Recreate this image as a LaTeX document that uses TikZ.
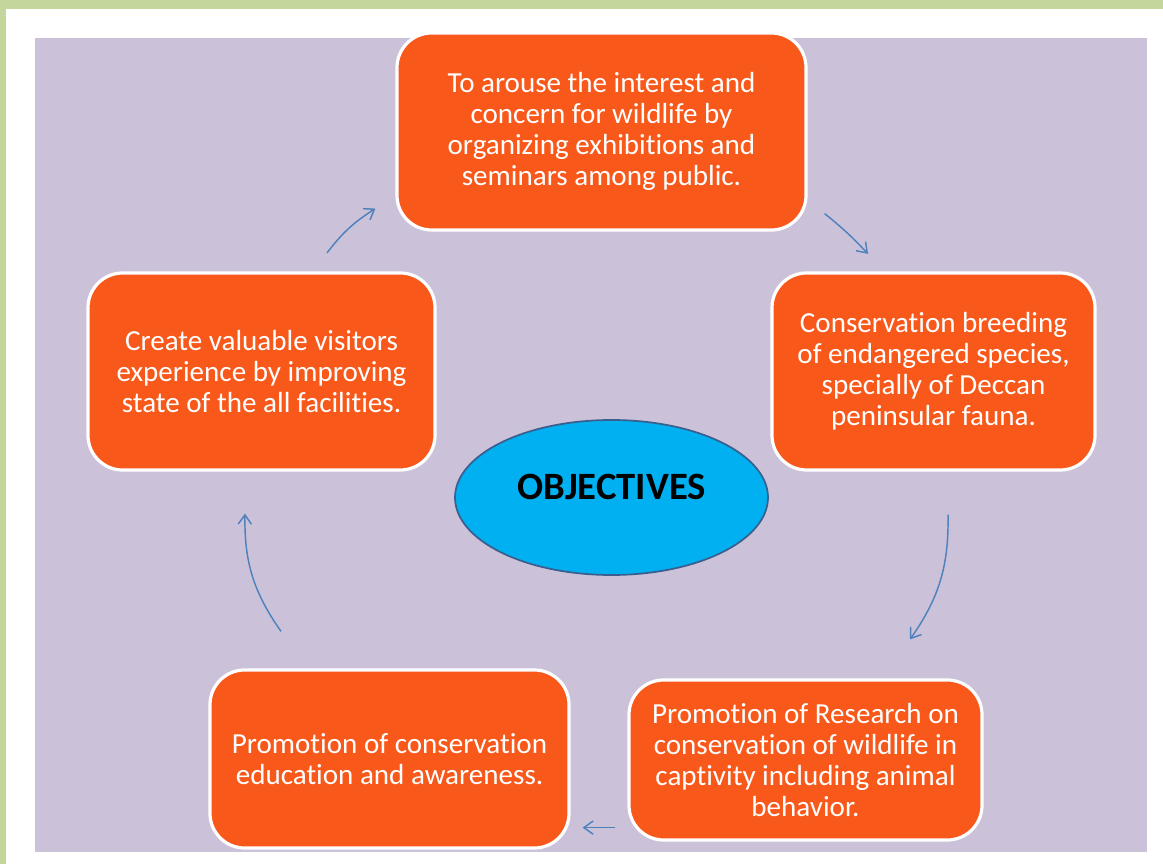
\documentclass[tikz,border=0pt]{standalone}
\usepackage{fontspec}
\setmainfont{Carlito}[Ligatures=NoCommon]
\usepackage{tikz}
\usetikzlibrary{arrows,arrows.meta,calc,positioning,shapes.geometric}
\definecolor{boxorange}{RGB}{248,88,26}
\definecolor{lavender}{RGB}{203,194,218}
\definecolor{framegreen}{RGB}{196,214,155}
\definecolor{ovalblue}{RGB}{0,176,240}
\definecolor{ovalrim}{RGB}{58,95,143}
\definecolor{flowblue}{RGB}{79,129,189}
\tikzset{
  objbox/.style={draw=white, line width=2.4pt, fill=boxorange, rounded corners=26pt,
    text=white, align=center, font=\fontsize{21.8}{23.3}\selectfont, inner sep=0pt},
  flow/.style={-{Straight Barb[length=7pt,width=10pt]}, draw=flowblue, line width=1.1pt}
}
\begin{document}
\begin{tikzpicture}[x=0.75pt,y=0.75pt]
\useasboundingbox (0,0) rectangle (1163,864);
\fill[white] (0,0) rectangle (1163,864);
\fill[framegreen] (0,855) rectangle (1163,864);
\fill[framegreen] (0,0) rectangle (6,864);
\fill[lavender] (35,12) rectangle (1147,826);

\node[objbox, minimum width=409*0.75pt, minimum height=197*0.75pt] (arouse) at (601.5,732.5)
  {To arouse the interest and\\concern for wildlife by\\organizing exhibitions and\\seminars among public.};
\node[objbox, minimum width=323*0.75pt, minimum height=197*0.75pt] (breeding) at (933.5,492.5)
  {Conservation breeding\\of endangered species,\\specially of Deccan\\peninsular fauna.};
\node[objbox, minimum width=347*0.75pt, minimum height=197*0.75pt] (visitors) at (261.5,492.5)
  {Create valuable visitors\\experience by improving\\state of the all facilities.};
\node[objbox, minimum width=353*0.75pt, minimum height=160*0.75pt] (research) at (805.5,104)
  {Promotion of Research on\\conservation of wildlife in\\captivity including animal\\behavior.};
\node[objbox, minimum width=359*0.75pt, minimum height=178*0.75pt] (education) at (389.5,105)
  {Promotion of conservation\\education and awareness.};
\node[ellipse, draw=ovalrim, line width=1.3pt, fill=ovalblue, minimum width=313*0.75pt,
  minimum height=155*0.75pt, text depth=16pt, font=\fontsize{29}{32}\selectfont\bfseries] (objectives) at (611.5,366.5) {OBJECTIVES};

% arrows round the cycle
\draw[flow] ($(visitors.north)+(65.5,18.5)$) to[bend left=10] ($(arouse.south west)+(-20,23)$);
\draw[flow] ($(arouse.south east)+(17,18)$) to[bend left=4] ($(breeding.north)+(-65.5,17.5)$);
\draw[flow] ($(breeding.south)+(14.5,-43)$) to[bend left=18] ($(research.north)+(104.5,39)$);
\draw[flow] ($(research.south west)+(-12,14)$) -- ($(education.south east)+(12,22)$);
\draw[flow] ($(education.north)+(-108.5,37)$) to[bend left=18] ($(visitors.south)+(-16.5,-42)$);
\end{tikzpicture}
\end{document}
